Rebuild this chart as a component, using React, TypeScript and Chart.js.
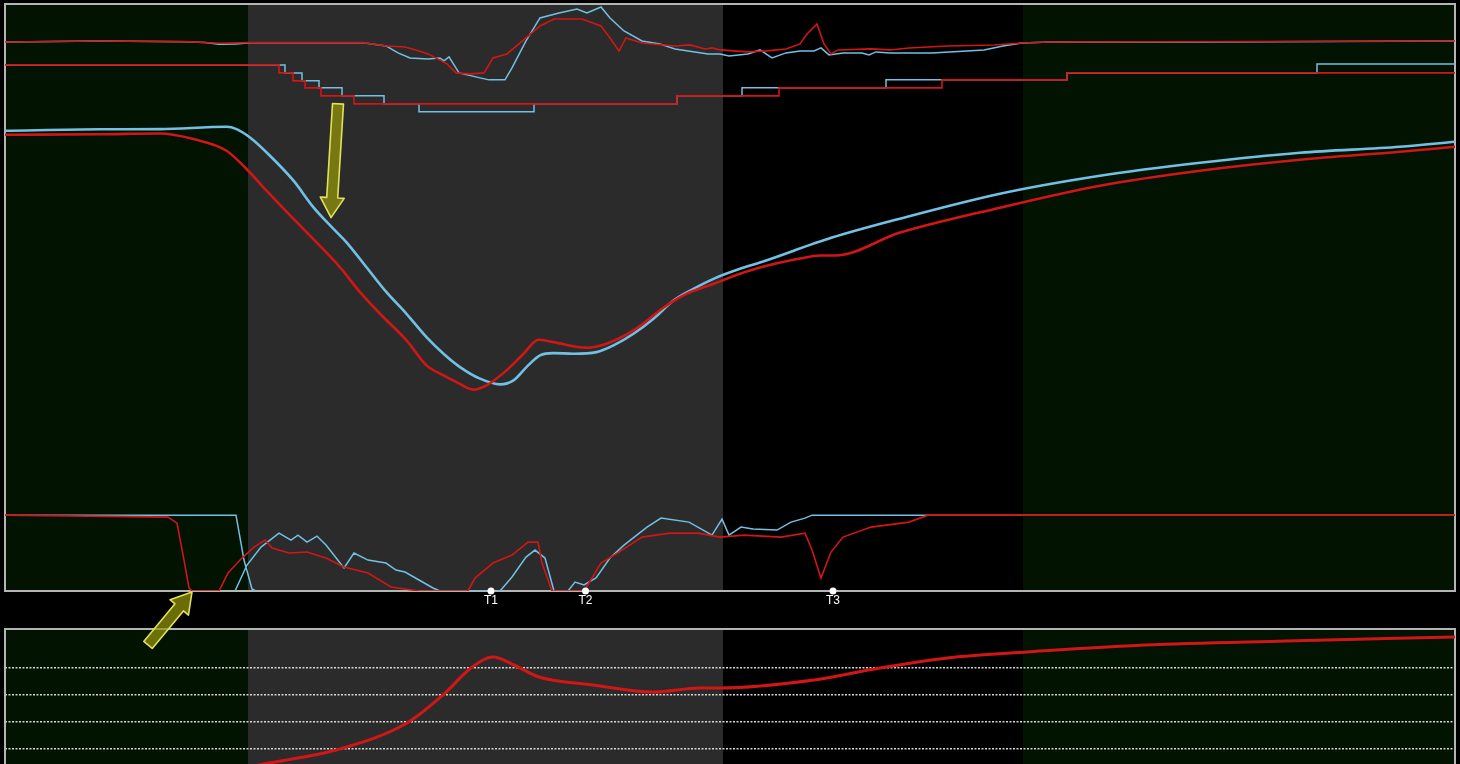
import React, { useEffect, useRef } from 'react';
import { Chart, registerables } from 'chart.js';

Chart.register(...registerables);

type P = [number, number | null];

// ---------- data (time in s, values in panel units) ----------
const timeMin = 0;
const timeMax = 290;

const phaseBounds = [0, 48.6, 143.6, 203.6, 290];

const eventTimes = [97.2, 116.1, 165.6];
const eventLabels = ['T1', 'T2', 'T3'];

// upper trace (top of main panel)
const upperBlue: P[] = [
  [0, 550], [19, 551], [36.2, 550.3], [40, 549.5], [42.8, 547.7], [46, 548], [49.2, 549.3],
  [71.6, 549.3], [76.2, 546], [78.6, 539], [81, 534], [84.6, 533], [87, 534], [87.8, 531],
  [88.8, 535], [90.8, 519], [95, 514], [96.8, 512], [100, 512], [101.4, 524], [104.2, 551],
  [107, 574], [110.8, 579], [114.4, 583], [116.4, 579], [119.2, 585], [121, 574], [123.8, 561],
  [127.4, 551], [131, 548], [134, 543], [140.6, 538], [143, 538], [144.8, 536], [148.6, 538],
  [151, 542], [153.4, 534], [156.2, 539], [159, 541], [161.8, 541], [163.2, 544], [164.8, 537],
  [167.6, 539], [171.4, 539], [172.8, 537], [174.2, 540], [177, 539], [185.4, 539], [195.8, 542],
  [199.6, 546], [203.4, 549], [209, 550], [239, 550], [290, 551],
];
const upperRed: P[] = [
  [0, 550], [19, 551], [36.2, 550.3], [42.8, 548.7], [49.2, 549.3], [71.6, 549.3], [76.2, 546],
  [80, 545], [82.8, 541], [84.6, 538], [88.4, 528], [90.2, 519], [93, 518], [95.8, 519],
  [97.6, 534], [100.4, 538], [104.2, 554], [107, 566], [109.8, 573], [115.4, 573], [119.2, 566],
  [121, 554], [122.8, 541], [124.2, 554], [127.4, 549], [134, 546], [137, 547], [140, 543],
  [141.4, 544], [143, 542], [148.6, 540], [152.4, 541], [156.2, 543], [159, 548], [160.4, 558],
  [162.4, 568], [163.8, 548], [165.2, 538], [166.6, 542], [173.2, 543], [177, 542], [180.8, 544],
  [188.4, 546], [197.8, 547], [203.4, 549], [209, 550], [290, 551],
];

// stepped trace (each point: new level from that time on)
const stepRed: P[] = [
  [0, 527], [54.8, 519], [57.6, 511], [60, 504], [63.2, 496], [69.8, 488], [134.4, 496],
  [154.8, 504], [187.4, 512], [212.4, 519], [290, 519],
];
const stepBlue: P[] = [
  [0, 527], [56, 519], [59.4, 511], [62.8, 504], [67.4, 496], [75.8, 488], [82.8, 480],
  [105.8, 488], [134.4, 496], [147.4, 504], [176.2, 512], [212.4, 519], [262.4, 528], [290, 528],
];

// main trace
const mainBlue: P[] = [
  [0, 461], [19, 462.5], [31, 462.7], [44.3, 465], [46.3, 462.7], [49, 454.3], [53, 436],
  [57.7, 411], [61.7, 384.3], [65.7, 362.7], [68.3, 349.3], [72.3, 324.3], [76.3, 299.3],
  [80.3, 277.7], [84.3, 254.3], [87.7, 237.7], [91, 224.3], [95, 212.7], [99, 207],
  [101.7, 211], [104.3, 224.3], [107, 236], [109.7, 238.3], [113.7, 237.7], [118.3, 239.3],
  [121.7, 246], [125.7, 257.7], [129.7, 272.7], [133.7, 291], [137.7, 302.7], [141.7, 312.7],
  [147, 322.7], [151, 329], [165.4, 354], [179, 373], [199, 398], [219, 416], [239, 429],
  [259, 439], [279, 445], [290, 450],
];
const mainRed: P[] = [
  [0, 457], [19, 457.5], [31, 458.3], [37.7, 452.7], [44.3, 441], [48.3, 422.7], [52.3, 401],
  [57.7, 372.7], [62.3, 349.3], [67, 324.3], [71, 299.3], [75, 277.7], [80.3, 251],
  [84.3, 226], [87.7, 216], [90.3, 209.3], [93.7, 201.7], [96.3, 206], [100.3, 221],
  [103.7, 237.7], [106.7, 251.7], [109.7, 249.3], [116.3, 243.7], [120.3, 247.7], [125.7, 261],
  [132.3, 286], [136.3, 297.7], [141.7, 307.7], [147, 317.7], [151, 324], [159, 333],
  [163, 336], [166, 336], [179, 359], [199, 384], [219, 406], [239, 421], [259, 432],
  [279, 440], [290, 445],
];

// lower trace (bottom of main panel)
const lowerRed: P[] = [
  [0, 76], [32.6, 74], [34.4, 68], [35.8, 31], [36.8, 3], [37.4, 0], [42.8, 0], [44.6, 18],
  [47.4, 33], [49.8, 44], [52, 51], [53.4, 43], [56.8, 38], [60.4, 39], [64.2, 33], [67.8, 24],
  [72.6, 18], [77.2, 4], [82.8, 0], [92.6, 0], [94, 13], [97.6, 28], [101.4, 36], [104.6, 49],
  [106.6, 49], [107.4, 28], [109.4, 0], [115.8, 0], [119.2, 28], [122.8, 39], [127.4, 54],
  [133, 58], [138.6, 58], [143, 54], [147.8, 56], [155.2, 54], [160, 58], [161.4, 41],
  [163.2, 13], [165.2, 39], [167.6, 54], [173.2, 64], [180.8, 69], [184.6, 76], [290, 76],
];
const lowerBlue: P[] = [
  [0, 76], [46.2, 76], [47.8, 31], [49.4, 2], [50.2, 0], [50.2, null],
  [46, 0], [48.4, 26], [51.2, 44], [54.8, 58], [57.2, 51], [58.6, 56], [60.4, 49], [62.4, 55],
  [64.2, 46], [67.8, 23], [69.8, 38], [72.6, 31], [76.2, 28], [78.2, 21], [80, 19], [82.8, 11],
  [85.6, 3], [87, 0], [99, 0], [101.4, 14], [104.2, 34], [106, 41], [108, 33], [109.8, 0],
  [112.6, 0], [114, 9], [115.8, 6], [118.2, 13], [121, 33], [123.8, 46], [128.4, 64],
  [131.2, 73], [136.8, 69], [141.4, 56], [143.4, 72], [144.8, 56], [147.2, 64], [149.6, 62],
  [154.4, 61], [157.2, 69], [160, 73], [161.4, 76], [290, 76],
];

// lower panel trace
const bottomRed: P[] = [
  [0, -24], [19, -17], [39, -2], [51.8, 12], [66.2, 26], [80.4, 53], [87.6, 81], [93.2, 108],
  [97.6, 119], [101.8, 111], [106.8, 99], [117.6, 91], [129.8, 84], [139, 88], [143, 88],
  [161.8, 96], [175, 108], [190.2, 119], [204.4, 124], [228, 131], [256.2, 135], [290, 139],
];
const bottomGridValues = [27, 54, 81, 108];

// annotation arrows: [tail, tip] in data coordinates of the main panel
const arrowNotes: [P, P][] = [
  [[66.6, 488], [65.2, 374]],
  [[28.6, -54], [37.4, -1]],
];

// ---------- styles ----------
const BLUE = '#72c1e4';
const RED = '#d21616';
const PHASE_COLORS = ['#021302', '#2b2b2b', '#000000', '#021302'];
const FRAME = '#b4b4b4';

const toXY = (arr: P[]) => arr.map(([x, y]) => ({ x, y }));

const bandsPlugin = {
  id: 'bands',
  beforeDraw(chart: any) {
    const { ctx, chartArea: a, scales } = chart;
    const xs = scales.x;
    ctx.save();
    for (let i = 0; i < phaseBounds.length - 1; i++) {
      const x0 = Math.max(a.left, xs.getPixelForValue(phaseBounds[i]));
      const x1 = Math.min(a.right, xs.getPixelForValue(phaseBounds[i + 1]));
      ctx.fillStyle = PHASE_COLORS[i];
      ctx.fillRect(x0, a.top, x1 - x0, a.bottom - a.top);
    }
    ctx.restore();
  },
};

const framePlugin = {
  id: 'frame',
  beforeDatasetsDraw(chart: any) {
    const { ctx, chartArea: a } = chart;
    ctx.save();
    ctx.strokeStyle = FRAME;
    ctx.lineWidth = 2;
    ctx.strokeRect(a.left, a.top, a.right - a.left, a.bottom - a.top);
    ctx.restore();
  },
};

function drawArrow(ctx: CanvasRenderingContext2D, x0: number, y0: number, x1: number, y1: number) {
  const dx = x1 - x0;
  const dy = y1 - y0;
  const L = Math.hypot(dx, dy);
  const ux = dx / L;
  const uy = dy / L;
  const nx = -uy;
  const ny = ux;
  const sw = 5.5;
  const hw = 12;
  const hl = 20;
  const bx = x1 - ux * hl;
  const by = y1 - uy * hl;
  ctx.beginPath();
  ctx.moveTo(x0 + nx * sw, y0 + ny * sw);
  ctx.lineTo(bx + nx * sw, by + ny * sw);
  ctx.lineTo(bx + nx * hw, by + ny * hw);
  ctx.lineTo(x1, y1);
  ctx.lineTo(bx - nx * hw, by - ny * hw);
  ctx.lineTo(bx - nx * sw, by - ny * sw);
  ctx.lineTo(x0 - nx * sw, y0 - ny * sw);
  ctx.closePath();
  ctx.fillStyle = 'rgba(150,150,10,0.72)';
  ctx.fill();
  ctx.strokeStyle = '#dfe25a';
  ctx.lineWidth = 1.6;
  ctx.lineJoin = 'round';
  ctx.stroke();
}

const notesPlugin = {
  id: 'notes',
  afterDraw(chart: any) {
    const { ctx, scales } = chart;
    const xs = scales.x;
    const ys = scales.y;
    ctx.save();
    ctx.fillStyle = '#ffffff';
    ctx.font = '12px "Liberation Sans Narrow", "Liberation Sans", Arial, sans-serif';
    ctx.textAlign = 'center';
    ctx.textBaseline = 'middle';
    eventTimes.forEach((t, i) => {
      ctx.fillText(eventLabels[i], xs.getPixelForValue(t), ys.getPixelForValue(0) + 10);
    });
    arrowNotes.forEach(([tail, tip]) => {
      drawArrow(
        ctx,
        xs.getPixelForValue(tail[0]),
        ys.getPixelForValue(tail[1] as number),
        xs.getPixelForValue(tip[0]),
        ys.getPixelForValue(tip[1] as number),
      );
    });
    ctx.restore();
  },
};

const line = (data: P[], color: string, width: number, extra: any = {}) => ({
  data: toXY(data),
  borderColor: color,
  borderWidth: width,
  pointRadius: 0,
  fill: false,
  tension: 0,
  ...extra,
});

export default function App() {
  const topRef = useRef<HTMLCanvasElement>(null);
  const botRef = useRef<HTMLCanvasElement>(null);

  useEffect(() => {
    const top = new Chart(topRef.current as HTMLCanvasElement, {
      type: 'line',
      data: {
        datasets: [
          {
            data: eventTimes.map((t) => ({ x: t, y: 0 })),
            showLine: false,
            pointRadius: 3.5,
            pointBackgroundColor: '#ffffff',
            pointBorderWidth: 0,
            clip: false,
          } as any,
          line(upperRed, RED, 1.6),
          line(stepRed, RED, 1.6, { stepped: 'before' }),
          line(mainRed, RED, 2.6, { cubicInterpolationMode: 'monotone' }),
          line(lowerRed, RED, 1.6),
          line(upperBlue, BLUE, 1.5),
          line(stepBlue, BLUE, 1.5, { stepped: 'before' }),
          line(mainBlue, BLUE, 2.6, { cubicInterpolationMode: 'monotone' }),
          line(lowerBlue, BLUE, 1.5),
        ],
      },
      options: {
        responsive: false,
        animation: false,
        devicePixelRatio: 1,
        layout: { padding: { left: 5, right: 5, top: 3, bottom: 69 } },
        plugins: { legend: { display: false }, tooltip: { enabled: false } },
        events: [],
        scales: {
          x: { type: 'linear', min: timeMin, max: timeMax, display: false },
          y: { type: 'linear', min: 0, max: 588, display: false },
        },
      },
      plugins: [bandsPlugin, framePlugin, notesPlugin],
    });

    const bot = new Chart(botRef.current as HTMLCanvasElement, {
      type: 'line',
      data: {
        datasets: [line(bottomRed, RED, 3, { cubicInterpolationMode: 'monotone' })],
      },
      options: {
        responsive: false,
        animation: false,
        devicePixelRatio: 1,
        layout: { padding: { left: 5, right: 5, top: 29, bottom: 24 } },
        plugins: { legend: { display: false }, tooltip: { enabled: false } },
        events: [],
        scales: {
          x: { type: 'linear', min: timeMin, max: timeMax, display: false },
          y: {
            type: 'linear',
            min: 0,
            max: 147,
            z: 1,
            afterBuildTicks: (scale: any) => {
              scale.ticks = bottomGridValues.map((v) => ({ value: v }));
            },
            ticks: { display: false },
            grid: { color: 'rgba(225,225,225,0.95)', lineWidth: 1.5, drawTicks: false },
            border: { display: false, dash: [2, 1.5] },
          },
        },
      },
      plugins: [bandsPlugin, framePlugin],
    });

    return () => {
      top.destroy();
      bot.destroy();
    };
  }, []);

  return (
    <div
      style={{
        position: 'fixed',
        left: 0,
        top: 0,
        width: 1460,
        height: 764,
        background: '#000',
        overflow: 'hidden',
      }}
    >
      <div style={{ position: 'absolute', left: 0, top: 600, width: 1460, height: 200, zIndex: 1 }}>
        <canvas ref={botRef} width={1460} height={200} style={{ display: 'block', width: 1460, height: 200 }} />
      </div>
      <div style={{ position: 'absolute', left: 0, top: 0, width: 1460, height: 660, zIndex: 2 }}>
        <canvas ref={topRef} width={1460} height={660} style={{ display: 'block', width: 1460, height: 660 }} />
      </div>
    </div>
  );
}
